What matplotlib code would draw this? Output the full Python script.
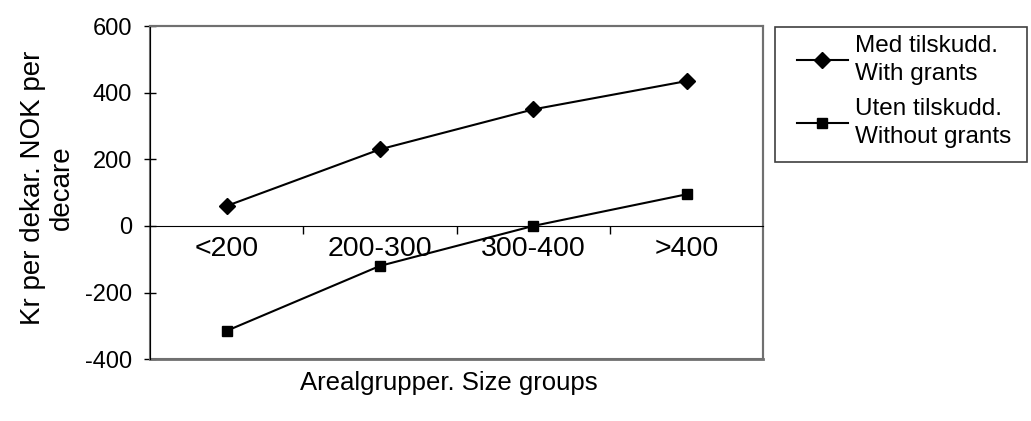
import matplotlib
matplotlib.use("Agg")
import matplotlib.pyplot as plt
from matplotlib.patches import Rectangle

plt.rcParams['font.family'] = ['Liberation Sans', 'DejaVu Sans']

# data
categories = ['<200', '200-300', '300-400', '>400']
with_grants = [60, 230, 350, 435]
without_grants = [-315, -120, 0, 95]
series_labels = ['Med tilskudd.\nWith grants', 'Uten tilskudd.\nWithout grants']
y_ticks = [-400, -200, 0, 200, 400, 600]

fig = plt.figure(figsize=(10.31, 4.21), dpi=100)
ax = fig.add_axes([0.1455, 0.147, 0.595, 0.791])

x = range(len(categories))
ax.plot(x, with_grants, color='black', lw=1.5, marker='D', markersize=8.5,
        label=series_labels[0])
ax.plot(x, without_grants, color='black', lw=1.5, marker='s', markersize=7.5,
        label=series_labels[1])

ax.set_xlim(-0.5, len(categories) - 0.5)
ax.set_ylim(-400, 600)
ax.set_yticks(y_ticks)
ax.set_yticklabels([str(v) for v in y_ticks], fontsize=17)
ax.tick_params(axis='y', direction='inout', length=8, width=1, pad=9)

# category axis runs along zero
ax.spines['bottom'].set_position(('data', 0))
ax.spines['bottom'].set_color('black')
ax.spines['left'].set_color('black')
for s in ['top', 'right']:
    ax.spines[s].set_color('#707070')
    ax.spines[s].set_linewidth(1.5)
ax.set_xticks(list(x))
ax.set_xticklabels(categories, fontsize=20.5)
ax.set_xticks([i + 0.5 for i in x][:-1], minor=True)
ax.tick_params(axis='x', which='major', length=0, pad=7)
ax.tick_params(axis='x', which='minor', direction='out', length=6, width=1)

# plot area border (bottom edge)
ax.patch.set_edgecolor('#707070')
ax.patch.set_linewidth(1.5)
ax.plot([0, 1], [0, 0], transform=ax.transAxes, color='#707070', lw=2,
        clip_on=False)

fig.text(0.046, 0.553, 'Kr per dekar. NOK per\ndecare', fontsize=20,
         rotation=90, ha='center', va='center', linespacing=1.1)
fig.text(0.4355, 0.09, 'Arealgrupper. Size groups', fontsize=18.5,
         ha='center', va='center')

# legend without its own frame, box drawn separately
leg = ax.legend(loc='upper left', bbox_to_anchor=(0.773, 0.917),
                bbox_transform=fig.transFigure, fontsize=17.5, frameon=False,
                handlelength=2.1, handletextpad=0.3, borderpad=0,
                labelspacing=0.55, borderaxespad=0)
for t in leg.get_texts():
    t.set_linespacing(1.35)
fig.patches.append(Rectangle((0.752, 0.615), 0.244, 0.32,
                             transform=fig.transFigure, fill=False,
                             edgecolor='#404040', lw=1.2))

fig.savefig('out.png', dpi=100)
